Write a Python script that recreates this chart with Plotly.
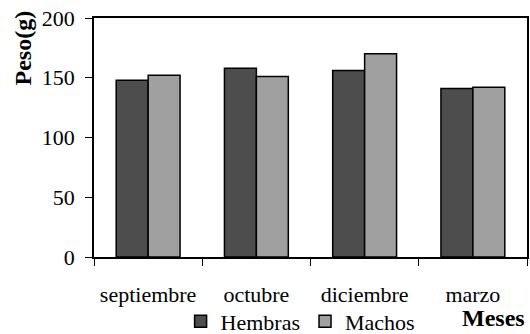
import plotly.graph_objects as go

# Monthly mean weight by sex
meses = ["septiembre", "octubre", "diciembre", "marzo"]
hembras = [148, 158, 156, 141]
machos = [152, 151, 170, 142]

FONT = "Liberation Serif"

fig = go.Figure()
fig.add_trace(go.Bar(
    name="Hembras", x=meses, y=hembras,
    marker=dict(color="#4d4d4d", line=dict(color="#000000", width=1.5)),
))
fig.add_trace(go.Bar(
    name="Machos", x=meses, y=machos,
    marker=dict(color="#a0a0a0", line=dict(color="#000000", width=1.5)),
))

fig.update_layout(
    width=530, height=334,
    margin=dict(l=94, r=3, t=18, b=77, autoexpand=False),
    paper_bgcolor="white", plot_bgcolor="white",
    font=dict(family=FONT, size=22, color="#000000"),
    barmode="group", bargap=0.41, bargroupgap=0,
    showlegend=True,
    legend=dict(
        orientation="h", x=0.2, xanchor="left", y=-0.27, yanchor="middle",
        font=dict(family=FONT, size=22), bgcolor="rgba(0,0,0,0)",
        itemwidth=30, tracegroupgap=0,
    ),
    xaxis=dict(
        showline=True, linecolor="#000000", linewidth=1.5, mirror=True,
        ticks="outside", tickson="boundaries", ticklen=7, tickcolor="#000000",
        tickfont=dict(family=FONT, size=22), showgrid=False,
        ticklabelstandoff=17, automargin=False,
    ),
    yaxis=dict(
        range=[0, 200], dtick=50, showline=True, linecolor="#000000",
        linewidth=1.5, mirror=True, ticks="outside", ticklen=7,
        tickcolor="#000000", tickfont=dict(family=FONT, size=22),
        showgrid=False, zeroline=False, ticklabelstandoff=6, automargin=False,
    ),
    annotations=[
        dict(text="<b>Peso(g)</b>", textangle=-90, xref="paper", yref="paper",
             x=-0.165, y=1.04, xanchor="center", yanchor="top", showarrow=False,
             font=dict(family=FONT, size=24)),
        dict(text="<b>Meses</b>", xref="paper", yref="paper",
             x=1.0, y=-0.255, xanchor="right", yanchor="middle", showarrow=False,
             font=dict(family=FONT, size=24)),
    ],
)

fig.write_html("out.html")
